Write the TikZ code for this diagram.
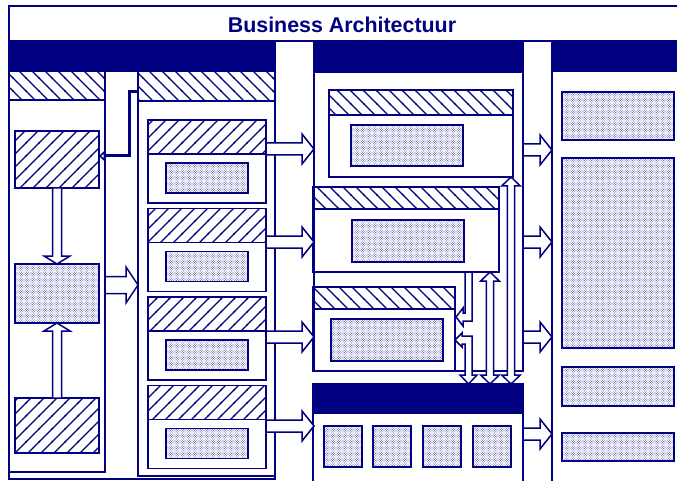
\documentclass[tikz,border=0pt]{standalone}
\usepackage{fontspec}
\setmainfont{Liberation Sans}
\usetikzlibrary{arrows.meta, calc, patterns}
\definecolor{bizblue}{RGB}{0,0,128}
\pgfdeclarepatternformonly{bizhatchne}{\pgfqpoint{-1pt}{-1pt}}{\pgfqpoint{14pt}{14pt}}{\pgfqpoint{13pt}{13pt}}{%
  \pgfsetlinewidth{1.3pt}\pgfpathmoveto{\pgfqpoint{-1pt}{-1pt}}\pgfpathlineto{\pgfqpoint{14pt}{14pt}}\pgfusepath{stroke}}
\pgfdeclarepatternformonly{bizhatchnw}{\pgfqpoint{-1pt}{-1pt}}{\pgfqpoint{14pt}{14pt}}{\pgfqpoint{13pt}{13pt}}{%
  \pgfsetlinewidth{1.3pt}\pgfpathmoveto{\pgfqpoint{-1pt}{14pt}}\pgfpathlineto{\pgfqpoint{14pt}{-1pt}}\pgfusepath{stroke}}
\pgfdeclarepatternformonly{bizdots}{\pgfqpoint{-.5pt}{-.5pt}}{\pgfqpoint{3pt}{3pt}}{\pgfqpoint{2.4pt}{2.4pt}}{%
  \pgfpathcircle{\pgfqpoint{0pt}{0pt}}{.38pt}\pgfpathcircle{\pgfqpoint{1.2pt}{1.2pt}}{.38pt}\pgfusepath{fill}}

\begin{document}
\begin{tikzpicture}[x=1pt, y=-1pt,
  box/.style={draw=bizblue, line width=1.5pt, inner sep=0pt, outer sep=0pt, anchor=north west},
  bar/.style={box, fill=bizblue},
  hatch/.style={box, pattern=bizhatchne, pattern color=bizblue},
  band/.style={box, pattern=bizhatchnw, pattern color=bizblue},
  dots/.style={box, pattern=bizdots, pattern color=bizblue},
  hollow/.style={draw=bizblue, line width=1.5pt, fill=white},
  link/.style={draw=bizblue, line width=3pt, -{Triangle[open, length=6pt, width=11pt]}},
  rarr/.style 2 args={to path={let \p1=(\tikztostart), \p2=(\tikztotarget) in
    (\x1,\y1+#1) -- (\x2-12pt,\y1+#1) -- (\x2-12pt,\y1+#2) -- (\x2,\y1)
    -- (\x2-12pt,\y1-#2) -- (\x2-12pt,\y1-#1) -- (\x1,\y1-#1) -- cycle}},
  dnarr/.style={to path={let \p1=(\tikztostart), \p2=(\tikztotarget) in
    (\x1-4.5pt,\y1) -- (\x1-4.5pt,\y2+8pt) -- (\x1-13pt,\y2+8pt) -- (\x1,\y2)
    -- (\x1+13pt,\y2+8pt) -- (\x1+4.5pt,\y2+8pt) -- (\x1+4.5pt,\y1) -- cycle}},
  uparr/.style={to path={let \p1=(\tikztostart), \p2=(\tikztotarget) in
    (\x1-4.5pt,\y1) -- (\x1-4.5pt,\y2-8pt) -- (\x1-13pt,\y2-8pt) -- (\x1,\y2)
    -- (\x1+13pt,\y2-8pt) -- (\x1+4.5pt,\y2-8pt) -- (\x1+4.5pt,\y1) -- cycle}},
  updn/.style={to path={let \p1=(\tikztostart), \p2=(\tikztotarget) in
    (\x1,\y1) -- (\x1+9.3pt,\y1-9pt) -- (\x1+3.7pt,\y1-9pt) -- (\x1+3.7pt,\y2+9pt)
    -- (\x1+9.3pt,\y2+9pt) -- (\x1,\y2) -- (\x1-9.3pt,\y2+9pt) -- (\x1-3.7pt,\y2+9pt)
    -- (\x1-3.7pt,\y1-9pt) -- (\x1-9.3pt,\y1-9pt) -- cycle}}]
\useasboundingbox (0,0) rectangle (677,481);
\clip (0,0) rectangle (677,481);

% Title
\node[box, minimum width=700, minimum height=35] (top) at (9,6) {};
\node[anchor=base, text=bizblue, font=\fontsize{21.4}{25}\selectfont\bfseries] (title) at (342,33) {Business Architectuur};

% Left block
\node[box, minimum width=266, minimum height=438] (biz) at (9,41) {};
\node[bar, minimum width=266, minimum height=30] (bizbar) at (9,41) {};
\node[box, minimum width=96, minimum height=401] (colA) at (9,71) {};
\node[band, minimum width=96, minimum height=29] (colAhead) at (9,71) {};
\node[box, minimum width=137, minimum height=405] (colB) at (138,71) {};
\node[band, minimum width=137, minimum height=30] (colBhead) at (138,71) {};

\node[hatch, minimum width=84, minimum height=57] (h1) at (15,131) {};
\node[dots, minimum width=84, minimum height=59] (d1) at (15,264) {};
\node[hatch, minimum width=84, minimum height=55] (h2) at (15,398) {};

\foreach \i/\s in {1/120,2/208.5,3/297,4/385.5}{
  \node[hatch, minimum width=118, minimum height=34] (gh\i) at (148,\s) {};
  \node[box, minimum width=118, minimum height=49] (gb\i) at (148,\s+34) {};
  \node[dots, minimum width=82, minimum height=30] (gd\i) at (166,\s+43) {};
}

% Middle block
\node[box, minimum width=209, minimum height=330] (colC) at (314,41) {};
\node[bar, minimum width=209, minimum height=31] (colCbar) at (314,41) {};

\node[band, minimum width=184, minimum height=25] (pAhead) at (329,90) {};
\node[box, minimum width=184, minimum height=62] (pA) at (329,115) {};
\node[dots, minimum width=112, minimum height=41] (pAdots) at (351,125) {};

\node[band, minimum width=186, minimum height=22] (pBhead) at (313,187) {};
\node[box, minimum width=186, minimum height=63] (pB) at (313,209) {};
\node[dots, minimum width=112, minimum height=42] (pBdots) at (352,220) {};

\node[band, minimum width=142, minimum height=22] (pChead) at (313,287) {};
\node[box, minimum width=142, minimum height=62] (pC) at (313,309) {};
\node[dots, minimum width=112, minimum height=42] (pCdots) at (331,319) {};

\node[bar, minimum width=210, minimum height=29] (pDbar) at (313,384) {};
\node[box, minimum width=210, minimum height=90] (pD) at (313,413) {};
\foreach \j/\xx in {1/324,2/373,3/423,4/473}
  \node[dots, minimum width=38, minimum height=41] (pDdots\j) at (\xx,426) {};

% Right block
\node[box, minimum width=150, minimum height=450] (colD) at (552,41) {};
\node[bar, minimum width=150, minimum height=30] (colDbar) at (552,41) {};
\node[dots, minimum width=112, minimum height=48] (r1) at (562,92) {};
\node[dots, minimum width=112, minimum height=190] (r2) at (562,158) {};
\node[dots, minimum width=112, minimum height=39] (r3) at (562,367) {};
\node[dots, minimum width=112, minimum height=28] (r4) at (562,433) {};

% Arrows
\draw[hollow] (h1.south) to[dnarr] (d1.north);
\draw[hollow] (h2.north) to[uparr] (d1.south);
\draw[hollow] (colA.east |- 0,285) to[rarr={8.5pt}{18pt}] (colB.west |- 0,285);
\foreach \ay in {149,242,337,426}
  \draw[hollow] (gb1.east |- 0,\ay) to[rarr={6pt}{15pt}] (colC.west |- 0,\ay);
\foreach \ay in {150,242,337,434}
  \draw[hollow] (colC.east |- 0,\ay) to[rarr={6pt}{15pt}] (colD.west |- 0,\ay);

\draw[hollow] (pA.south -| 511,0) to[updn] (pDbar.north -| 511,0);
\draw[hollow] (pB.south -| 490,0) to[updn] (pDbar.north -| 490,0);
\draw[hollow] (pB.south -| 465,0) -- ++(0,41) -- ++(-2,0) -- ++(0,-5) -- ++(-7,9)
  -- ++(7,9) -- ++(0,-5) -- ++(9,0) -- ++(0,-49) -- cycle;
\draw[hollow] (pC.east |- 0,340) -- ++(7,-7) -- ++(0,3) -- ++(10,0) -- ++(0,39)
  -- ++(5,0) -- ++(-8.5,9) -- ++(-8.5,-9) -- ++(5,0) -- ++(0,-31) -- ++(-3,0) -- ++(0,3) -- cycle;

\draw[link] (colBhead.west |- 0,92) -- ++(-9,0) |- (h1.east |- 0,156);
\end{tikzpicture}
\end{document}
